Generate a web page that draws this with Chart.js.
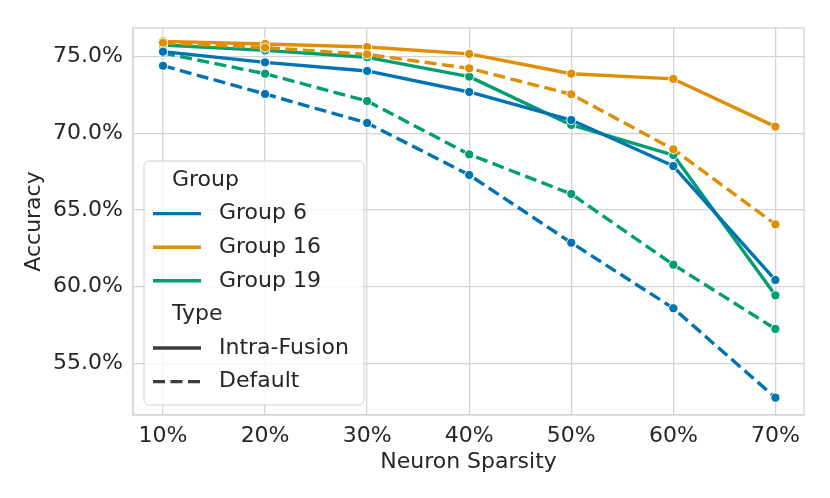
<!DOCTYPE html>
<html lang="en">

<head>
  <meta charset="UTF-8">
  <title>Neuron Sparsity vs Accuracy</title>

  <script src="https://cdnjs.cloudflare.com/ajax/libs/Chart.js/4.3.0/chart.umd.js"></script>

  <style>
    body {
      margin: 0;
      background-color: #fff;
    }

    .chart-container {
      width: 830px;
      height: 498px;
    }
  </style>
</head>

<body>

  <div class="chart-container">
    <canvas id="chart-sparsity" width="830" height="498"></canvas>
  </div>

  <script>
    const sparsity = [10, 20, 30, 40, 50, 60, 70];
    const yTicks = [55, 60, 65, 70, 75];

    const group6Fusion = [75.33, 74.63, 74.07, 72.70, 70.87, 67.87, 60.44];
    const group6Default = [74.41, 72.57, 70.68, 67.29, 62.87, 58.60, 52.77];
    const group16Fusion = [76.00, 75.83, 75.63, 75.18, 73.89, 73.55, 70.44];
    const group16Default = [75.90, 75.59, 75.15, 74.24, 72.55, 68.96, 64.07];
    const group19Fusion = [75.76, 75.41, 74.96, 73.70, 70.55, 68.59, 59.44];
    const group19Default = [75.24, 73.89, 72.11, 68.63, 66.05, 61.44, 57.25];

    const groups = ['Group 6', 'Group 16', 'Group 19'];
    const types = ['Intra-Fusion', 'Default'];
    const colors = ['#0173b2', '#de8f05', '#029e73'];

    const textColor = '#262626';
    const gridColor = '#d4d4d4';
    const fontFamily = '"DejaVu Sans", sans-serif';
    const dash = [12, 5.5];

    function makeSet(label, values, color, dashed) {
      return {
        label: label,
        data: values.map((v, i) => ({ x: sparsity[i], y: v })),
        borderColor: color,
        backgroundColor: color,
        borderWidth: 3.4,
        borderDash: dashed ? dash : [],
        borderJoinStyle: 'round',
        pointRadius: 4.6,
        pointBorderWidth: 1,
        pointBorderColor: '#fff',
        pointBackgroundColor: color,
        tension: 0
      };
    }

    // frame round the plot + legend with two titled sections like seaborn
    const sectionLegend = {
      id: 'sectionLegend',
      beforeDatasetsDraw(chart) {
        const ctx = chart.ctx;
        const a = chart.chartArea;
        ctx.save();
        ctx.lineWidth = 1.3;
        ctx.strokeStyle = gridColor;
        ctx.strokeRect(a.left, a.top, a.right - a.left, a.bottom - a.top);
        ctx.restore();
      },
      afterDatasetsDraw(chart) {
        const ctx = chart.ctx;
        const area = chart.chartArea;
        const left = area.left + 11;
        const bottom = area.bottom - 10;
        const w = 220, h = 244;
        const top = bottom - h;

        ctx.save();
        ctx.beginPath();
        ctx.roundRect(left, top, w, h, 5);
        ctx.fillStyle = 'rgba(255,255,255,0.8)';
        ctx.fill();
        ctx.lineWidth = 1;
        ctx.strokeStyle = '#d0d0d0';
        ctx.stroke();

        ctx.font = '22px ' + fontFamily;
        ctx.fillStyle = textColor;
        ctx.textBaseline = 'middle';
        ctx.textAlign = 'left';

        const row = 33.6;
        let y = top + 19;
        const rows = [{ title: 'Group' }];
        groups.forEach((g, i) => rows.push({ label: g, color: colors[i], dash: [] }));
        rows.push({ title: 'Type' });
        types.forEach((t, i) => rows.push({ label: t, color: '#3d3d3d', dash: i ? dash : [] }));

        rows.forEach(r => {
          if (r.title) {
            ctx.fillStyle = textColor;
            ctx.fillText(r.title, left + 28, y);
          } else {
            ctx.beginPath();
            ctx.setLineDash(r.dash);
            ctx.lineWidth = 3.4;
            ctx.strokeStyle = r.color;
            ctx.moveTo(left + 9, y);
            ctx.lineTo(left + 57, y);
            ctx.stroke();
            ctx.setLineDash([]);
            ctx.fillStyle = textColor;
            ctx.fillText(r.label, left + 75, y);
          }
          y += row;
        });
        ctx.restore();
      }
    };

    const datasets = [
      makeSet('Group 6 Intra-Fusion', group6Fusion, colors[0], false),
      makeSet('Group 6 Default', group6Default, colors[0], true),
      makeSet('Group 16 Default', group16Default, colors[1], true),
      makeSet('Group 16 Intra-Fusion', group16Fusion, colors[1], false),
      makeSet('Group 19 Intra-Fusion', group19Fusion, colors[2], false),
      makeSet('Group 19 Default', group19Default, colors[2], true)
    ];

    new Chart(document.getElementById('chart-sparsity'), {
      type: 'line',
      data: { datasets: datasets },
      plugins: [sectionLegend],
      options: {
        responsive: false,
        animation: false,
        layout: { padding: { top: 28, right: 26, left: 0, bottom: 0 } },
        plugins: {
          legend: { display: false },
          tooltip: { enabled: false }
        },
        scales: {
          x: {
            type: 'linear',
            min: 7.06,
            max: 72.8,
            afterBuildTicks: scale => { scale.ticks = sparsity.map(v => ({ value: v })); },
            afterFit: scale => { scale.height = 83; },
            grid: { color: gridColor, lineWidth: 1.3, drawTicks: false },
            border: { color: gridColor, width: 1.3 },
            ticks: {
              padding: 8,
              color: textColor,
              font: { family: fontFamily, size: 22 },
              callback: v => v + '%'
            },
            title: {
              display: true,
              text: 'Neuron Sparsity',
              color: textColor,
              font: { family: fontFamily, size: 22 },
              padding: { top: 0, bottom: 23 }
            }
          },
          y: {
            min: 51.64,
            max: 76.87,
            afterBuildTicks: scale => { scale.ticks = yTicks.map(v => ({ value: v })); },
            afterFit: scale => { scale.width = 133; },
            grid: { color: gridColor, lineWidth: 1.3, drawTicks: false },
            border: { color: gridColor, width: 1.3 },
            ticks: {
              padding: 10,
              color: textColor,
              font: { family: fontFamily, size: 22 },
              callback: v => v.toFixed(1) + '%'
            },
            title: {
              display: true,
              text: 'Accuracy',
              color: textColor,
              font: { family: fontFamily, size: 22 },
              padding: { top: 21, bottom: 0 }
            }
          }
        }
      }
    });
  </script>
</body>

</html>
